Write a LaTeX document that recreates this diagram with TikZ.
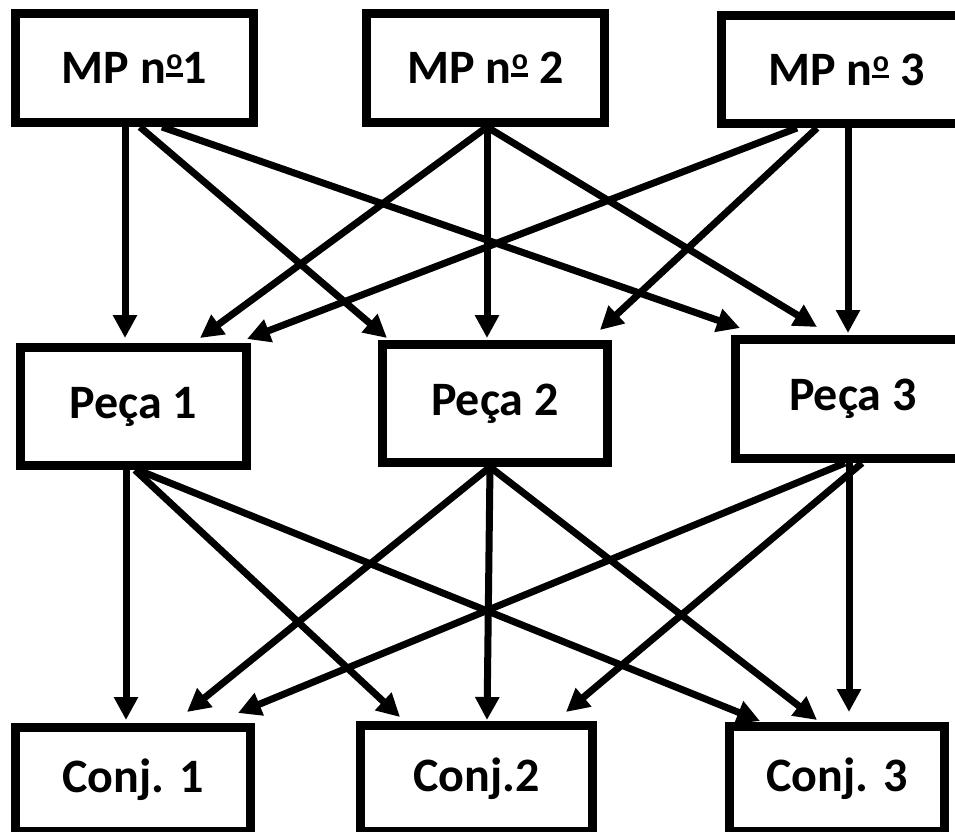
\documentclass[tikz,border=0pt]{standalone}
\usepackage{fontspec}
\setmainfont{Carlito}
% underlined ordinal sign, as the picture prints it
\newcommand{\ordsign}{\makebox[17pt]{\raisebox{14pt}{\fontsize{30}{30}\selectfont o}}\kern-17pt\rule[7pt]{17pt}{3.5pt}}
\usetikzlibrary{arrows.meta,positioning,calc}

\tikzset{
  box/.style={draw, line width=9pt, rectangle, inner sep=0pt,
              font=\bfseries\fontsize{48}{56}\selectfont},
  arr/.style={line width=7pt, -{Triangle[length=23pt,width=23pt]}}
}

\begin{document}
\begin{tikzpicture}[x=1pt,y=-1pt]
					\useasboundingbox (0,0) rectangle (955,831);

					% MP row
					\node[box, minimum width=238pt, minimum height=109pt] (m1) at (134.5,68) {MP n\ordsign1};
					\node[box, minimum width=238pt, minimum height=109pt] (m2) at (485.5,68) {MP n\ordsign\ 2};
					\node[box, minimum width=250pt, minimum height=108pt] (m3) at (846.5,69.5) {MP n\ordsign\ 3};

					% Peca row
					\node[box, minimum width=226pt, minimum height=118pt] (p1) at (133.5,406.5) {Peça 1};
					\node[box, minimum width=225pt, minimum height=118pt] (p2) at (495,403.5) {Peça 2};
					\node[box, minimum width=235pt, minimum height=119pt] (p3) at (853,399) {Peça 3};

					% Conj row
					\node[box, minimum width=235pt, minimum height=103.5pt] (c1) at (133,779.25) {Conj. 1};
					\node[box, minimum width=232pt, minimum height=105.5pt] (c2) at (476.5,778.25) {Conj.2};
					\node[box, minimum width=215pt, minimum height=104.5pt] (c3) at (837,778.75) {Conj. 3};

					% MP -> Peca
					\draw[arr] ($(m1.south)+(-9.5,0)$) -- ($(p1.north)+(-8.5,-5)$);
					\draw[arr] ($(m1.south)+(5.5,0)$) -- ($(p2.north)+(-108,-2)$);
					\draw[arr] ($(m1.south)+(27.5,0)$) -- ($(p3.north)+(-113,-7)$);
					\draw[arr] ($(m2.south)+(1.5,0)$) -- ($(p1.north)+(66.5,-5)$);
					\draw[arr] ($(m2.south)+(1.5,0)$) -- ($(p2.north)+(-8,-2)$);
					\draw[arr] ($(m2.south)+(1.5,0)$) -- ($(p3.north)+(-36,-8)$);
					\draw[arr] ($(m3.south)+(-49.5,0)$) -- ($(p1.north)+(113.5,-4)$);
					\draw[arr] ($(m3.south)+(-29.5,0)$) -- ($(p2.north)+(105,-10)$);
					\draw[arr] ($(m3.south)+(1.5,0)$) -- ($(p3.north)+(-5,-2)$);

					% Peca -> Conj
					\draw[arr] ($(p1.south)+(-7.5,0)$) -- ($(c1.north)+(-7,-3)$);
					\draw[arr] ($(p1.south)+(1.5,0)$) -- ($(c2.north)+(-76.5,-4)$);
					\draw[arr] ($(p1.south)+(4.5,0)$) -- ($(c3.north)+(-77,-1)$);
					\draw[arr] ($(p2.south)+(-5,0)$) -- ($(c1.north)+(54,-11)$);
					\draw[arr] ($(p2.south)+(-5,0)$) -- ($(c2.north)+(10.5,-1)$);
					\draw[arr] ($(p2.south)+(-5,0)$) -- ($(c3.north)+(-20,-2)$);
					\draw[arr] ($(p3.south)+(-8,0)$) -- ($(c1.north)+(105,-10)$);
					\draw[arr] ($(p3.south)+(9,0)$) -- ($(c2.north)+(89.5,-9)$);
					\draw[arr] ($(p3.south)+(-4,0)$) -- ($(c3.north)+(12,-10)$);
\end{tikzpicture}
\end{document}
